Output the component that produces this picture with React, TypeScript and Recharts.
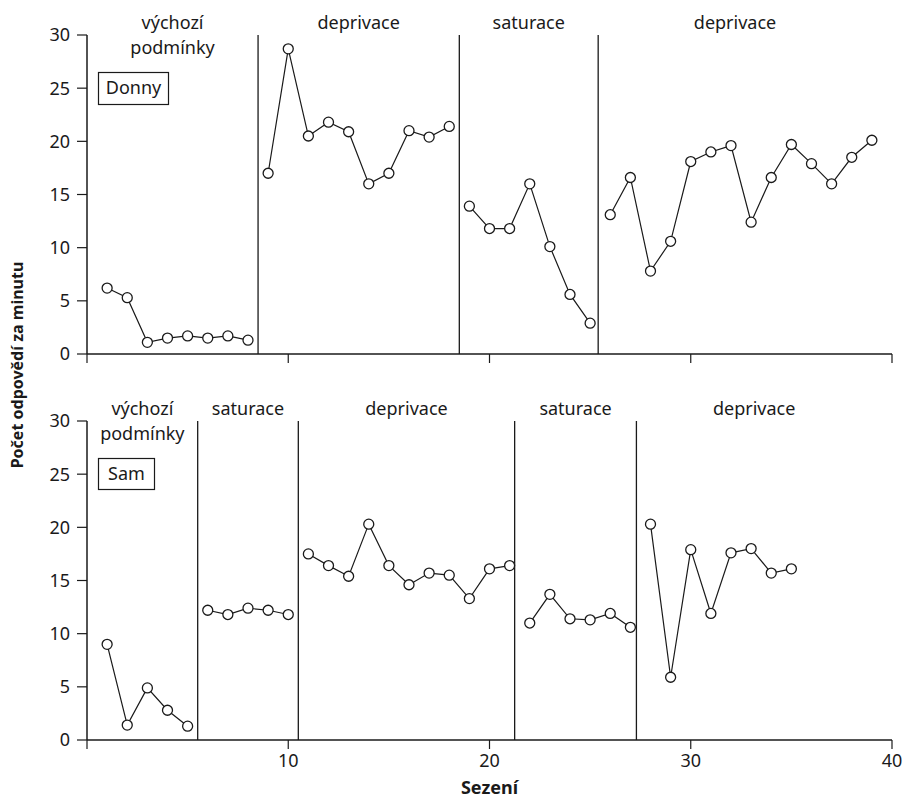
import React from 'react';
import { LineChart, Line, XAxis, YAxis, ReferenceLine, ReferenceArea } from 'recharts';

const FONT = '"Noto Sans", "Open Sans", sans-serif';
const INK = '#1a1a1a';

// ---------- Data ----------
const xTicks = [0, 10, 20, 30, 40];
const yTicks = [0, 5, 10, 15, 20, 25, 30];

// Donny (top panel)
const donnyBaseline = [6.2, 5.3, 1.1, 1.5, 1.7, 1.5, 1.7, 1.3]; // sessions 1-8
const donnyDeprivation1 = [17.0, 28.7, 20.5, 21.8, 20.9, 16.0, 17.0, 21.0, 20.4, 21.4]; // 9-18
const donnySaturation = [13.9, 11.8, 11.8, 16.0, 10.1, 5.6, 2.9]; // 19-25
const donnyDeprivation2 = [13.1, 16.6, 7.8, 10.6, 18.1, 19.0, 19.6, 12.4, 16.6, 19.7, 17.9, 16.0, 18.5, 20.1]; // 26-39
const donnyPhaseStarts = [1, 9, 19, 26];
const donnyPhaseBounds = [0, 8.5, 18.5, 25.4, 39];
const donnyPhaseLabels = [['výchozí', 'podmínky'], ['deprivace'], ['saturace'], ['deprivace']];

// Sam (bottom panel)
const samBaseline = [9.0, 1.4, 4.9, 2.8, 1.3]; // 1-5
const samSaturation1 = [12.2, 11.8, 12.4, 12.2, 11.8]; // 6-10
const samDeprivation1 = [17.5, 16.4, 15.4, 20.3, 16.4, 14.6, 15.7, 15.5, 13.3, 16.1, 16.4]; // 11-21
const samSaturation2 = [11.0, 13.7, 11.4, 11.3, 11.9, 10.6]; // 22-27
const samDeprivation2 = [20.3, 5.9, 17.9, 11.9, 17.6, 18.0, 15.7, 16.1]; // 28-35
const samPhaseStarts = [1, 6, 11, 22, 28];
const samPhaseBounds = [0, 5.5, 10.5, 21.25, 27.3, 39];
const samPhaseLabels = [['výchozí', 'podmínky'], ['saturace'], ['deprivace'], ['saturace'], ['deprivace']];

const donnySeries = [donnyBaseline, donnyDeprivation1, donnySaturation, donnyDeprivation2];
const samSeries = [samBaseline, samSaturation1, samDeprivation1, samSaturation2, samDeprivation2];

function buildRows(series: number[][], starts: number[]) {
  const map: Record<number, any> = {};
  series.forEach((vals, p) => {
    vals.forEach((v, i) => {
      const s = starts[p] + i;
      if (!map[s]) map[s] = { session: s };
      map[s]['p' + p] = v;
    });
  });
  return Object.keys(map)
    .map(Number)
    .sort((a, b) => a - b)
    .map((k) => map[k]);
}

const donnyRows = buildRows(donnySeries, donnyPhaseStarts);
const samRows = buildRows(samSeries, samPhaseStarts);

// ---------- Components ----------
const PhaseLabel = (props: any) => {
  const { viewBox, lines } = props;
  if (!viewBox) return null;
  const cx = viewBox.x + viewBox.width / 2;
  const y0 = viewBox.y - 6;
  return (
    <text x={cx} y={y0} textAnchor="middle" fontSize={18} fontFamily={FONT} fill={INK}>
      {lines.map((l: string, i: number) => (
        <tspan key={i} x={cx} y={y0 + i * 25}>
          {l}
        </tspan>
      ))}
    </text>
  );
};

const tickStyle = { fontSize: 18, fill: INK, fontFamily: FONT };

function Panel(props: {
  rows: any[];
  nSeries: number;
  bounds: number[];
  labels: string[][];
  height: number;
  top: number;
  xAxisHeight: number;
  showXLabels: boolean;
}) {
  const { rows, nSeries, bounds, labels, height, top, xAxisHeight, showXLabels } = props;
  return (
    <LineChart
      width={903}
      height={height}
      data={rows}
      margin={{ top, right: 11, left: 0, bottom: 0 }}
    >
      {labels.map((lines, i) => (
        <ReferenceArea
          key={'a' + i}
          x1={bounds[i]}
          x2={bounds[i + 1]}
          fill="none"
          fillOpacity={0}
          stroke="none"
          label={(p: any) => <PhaseLabel {...p} lines={lines} />}
        />
      ))}
      <XAxis
        type="number"
        dataKey="session"
        domain={[0, 40]}
        ticks={xTicks}
        interval={0}
        height={xAxisHeight}
        tickSize={9}
        tickMargin={5}
        tick={tickStyle}
        tickFormatter={(v: number) => (showXLabels && v !== 0 ? String(v) : '')}
        axisLine={{ stroke: INK, strokeWidth: 1.5 }}
        tickLine={{ stroke: INK, strokeWidth: 1.2 }}
        label={
          showXLabels
            ? {
                value: 'Sezení',
                position: 'insideBottom',
                offset: 5,
                style: { fontSize: 18, fontWeight: 700, fill: INK, fontFamily: FONT },
              }
            : undefined
        }
      />
      <YAxis
        type="number"
        domain={[0, 30]}
        ticks={yTicks}
        interval={0}
        width={87}
        tickSize={10}
        tickMargin={7}
        tick={tickStyle}
        axisLine={{ stroke: INK, strokeWidth: 1.5 }}
        tickLine={{ stroke: INK, strokeWidth: 1.2 }}
      />
      {bounds.slice(1, -1).map((b, i) => (
        <ReferenceLine key={'r' + i} x={b} stroke={INK} strokeWidth={1.3} />
      ))}
      {Array.from({ length: nSeries }).map((_, i) => (
        <Line
          key={'l' + i}
          type="linear"
          dataKey={'p' + i}
          stroke={INK}
          strokeWidth={1.2}
          connectNulls={false}
          dot={{ r: 5, fill: '#fff', stroke: INK, strokeWidth: 1.3 }}
          activeDot={false}
          isAnimationActive={false}
        />
      ))}
    </LineChart>
  );
}

export default function App() {
  return (
    <div style={{ position: 'absolute', left: 0, top: 0, width: 903, height: 799, background: '#fff' }}>
      <div style={{ position: 'absolute', left: 0, top: 0 }}>
        <Panel
          rows={donnyRows}
          nSeries={donnySeries.length}
          bounds={donnyPhaseBounds}
          labels={donnyPhaseLabels}
          height={380}
          top={35}
          xAxisHeight={26}
          showXLabels={false}
        />
      </div>
      <div style={{ position: 'absolute', left: 0, top: 380 }}>
        <Panel
          rows={samRows}
          nSeries={samSeries.length}
          bounds={samPhaseBounds}
          labels={samPhaseLabels}
          height={419}
          top={41}
          xAxisHeight={59}
          showXLabels={true}
        />
      </div>
      <svg
        width={903}
        height={799}
        style={{ position: 'absolute', left: 0, top: 0, pointerEvents: 'none' }}
      >
        <text
          x={23}
          y={365}
          transform="rotate(-90, 23, 365)"
          textAnchor="middle"
          fontSize={16}
          fontWeight={700}
          fontFamily={FONT}
          fill={INK}
        >
          Počet odpovědí za minutu
        </text>
        <rect x={98.5} y={72.5} width={70} height={32} fill="#fff" stroke={INK} strokeWidth={1.2} />
        <text x={133.5} y={94} textAnchor="middle" fontSize={18} fontFamily={FONT} fill={INK}>
          Donny
        </text>
        <rect x={98.5} y={458.5} width={56} height={31} fill="#fff" stroke={INK} strokeWidth={1.2} />
        <text x={126.5} y={480} textAnchor="middle" fontSize={18} fontFamily={FONT} fill={INK}>
          Sam
        </text>
      </svg>
    </div>
  );
}
